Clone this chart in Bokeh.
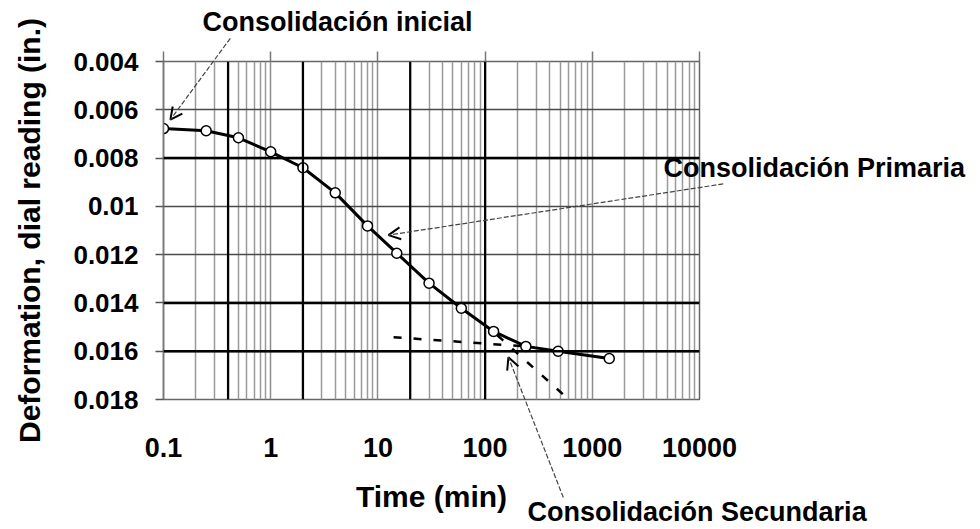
from bokeh.plotting import figure
from bokeh.models import (Range1d, FixedTicker, LogAxis, CustomJSTickFormatter,
                          Arrow, OpenHead, Span, ColumnDataSource)
from bokeh.core.properties import value
from bokeh.embed import file_html
from bokeh.resources import INLINE

# ---------------- data ----------------
time_min = [0.1, 0.25, 0.5, 1, 2, 4, 8, 15, 30, 60, 120, 240, 480, 1440]
dial_in = [0.00678, 0.00687, 0.00716, 0.00774, 0.00840, 0.00944, 0.01081,
           0.01194, 0.01318, 0.01422, 0.01518, 0.01580, 0.01600, 0.01630]

# dashed construction lines (tangents)
sec_t = [14, 240]
sec_d = [0.01542, 0.01580]
pri_t = [130, 590]
pri_d = [0.01534, 0.01796]

x_ticks = [0.1, 1, 10, 100, 1000, 10000]
x_tick_labels = ["0.1", "1", "10", "100", "1000", "10000"]
y_ticks = [0.004, 0.006, 0.008, 0.010, 0.012, 0.014, 0.016, 0.018]
y_tick_labels = ["0.004", "0.006", "0.008", "0.01", "0.012", "0.014", "0.016", "0.018"]

# darker grid lines seen in the reference
dark_x = [0.4, 2, 20, 100]
dark_y = [0.008, 0.014, 0.016]

# annotation texts and their anchors (left / middle)
ann_text = ["Consolidación inicial", "Consolidación Primaria", "Consolidación Secundaria"]
ann_x = [0.231, 4613, 249]
ann_y = [0.00238, 0.00843, 0.02264]

# annotation arrows (start -> arrow head)
arr_x0 = [0.42, 16650, 537]
arr_y0 = [0.00304, 0.00907, 0.02206]
arr_x1 = [0.116, 12.56, 165]
arr_y1 = [0.00641, 0.01119, 0.01625]

FONT = "Liberation Sans"

x_minor = [m * d for d in x_ticks[:-1] for m in range(2, 10)]

p = figure(width=980, height=529, x_axis_type="log",
           x_range=Range1d(0.1, 10000), y_range=Range1d(0.018, 0.004),
           output_backend="svg", toolbar_location=None,
           min_border_left=163, min_border_right=281,
           min_border_top=61, min_border_bottom=130)
p.background_fill_color = "white"
p.border_fill_color = "white"
p.outline_line_color = "#666666"
p.outline_line_width = 1.5

# grids
p.xgrid.ticker = FixedTicker(ticks=x_ticks, minor_ticks=x_minor)
p.xgrid.grid_line_color = "#8c8c8c"
p.xgrid.grid_line_width = 1.5
p.xgrid.minor_grid_line_color = "#9a9a9a"
p.xgrid.minor_grid_line_width = 1.5
p.ygrid.ticker = FixedTicker(ticks=y_ticks, minor_ticks=[])
p.ygrid.grid_line_color = "#4a4a4a"
p.ygrid.grid_line_width = 1.5

for xv in dark_x:
    p.add_layout(Span(location=xv, dimension="height", line_color="black", line_width=2.2))
for yv in dark_y:
    p.add_layout(Span(location=yv, dimension="width", line_color="black", line_width=2.5))

# bottom axis
xa = p.xaxis[0]
xa.ticker = FixedTicker(ticks=x_ticks, minor_ticks=[])
xa.major_label_overrides = dict(zip(x_ticks, x_tick_labels))
xa.major_tick_out = 0
xa.major_tick_in = 0
xa.minor_tick_out = 0
xa.minor_tick_in = 0
xa.axis_line_color = None
xa.major_label_standoff = 38
xa.major_label_text_font = FONT
xa.major_label_text_font_style = "bold"
xa.major_label_text_font_size = "27px"
xa.major_label_text_color = "black"
xa.axis_label = "Time (min)"
xa.axis_label_text_font = FONT
xa.axis_label_text_font_style = "bold"
xa.axis_label_text_font_size = "30px"
xa.axis_label_text_color = "black"
xa.axis_label_standoff = 20

# top axis: decade tick marks only
top = LogAxis(ticker=FixedTicker(ticks=x_ticks, minor_ticks=[]),
              formatter=CustomJSTickFormatter(code="return ''"))
top.major_tick_out = 10
top.major_tick_in = 0
top.minor_tick_out = 0
top.minor_tick_in = 0
top.axis_line_color = None
top.major_tick_line_color = "#777777"
top.major_tick_line_width = 1.5
top.major_label_standoff = 0
p.add_layout(top, "above")

# left axis
ya = p.yaxis[0]
ya.ticker = FixedTicker(ticks=y_ticks, minor_ticks=[])
ya.major_label_overrides = dict(zip(y_ticks, y_tick_labels))
ya.major_tick_out = 8
ya.major_tick_in = 0
ya.minor_tick_out = 0
ya.minor_tick_in = 0
ya.axis_line_color = "#777777"
ya.axis_line_width = 1.5
ya.major_tick_line_color = "#555555"
ya.major_tick_line_width = 1.5
ya.major_label_standoff = 17
ya.major_label_text_font = FONT
ya.major_label_text_font_style = "bold"
ya.major_label_text_font_size = "26px"
ya.major_label_text_color = "black"
ya.axis_label = "Deformation, dial reading (in.)"
ya.axis_label_text_font = FONT
ya.axis_label_text_font_style = "bold"
ya.axis_label_text_font_size = "30px"
ya.axis_label_text_color = "black"
ya.axis_label_standoff = 24

# dashed tangent constructions
p.line(sec_t, sec_d, line_color="black", line_width=2.5, line_dash="8 12")
p.line(pri_t, pri_d, line_color="black", line_width=2.5, line_dash="8 12")

# data curve
src = ColumnDataSource(dict(t=time_min, d=dial_in))
p.line("t", "d", source=src, line_color="black", line_width=3)
p.scatter("t", "d", source=src, marker="circle", size=10,
          fill_color="white", line_color="black", line_width=1.5)

# annotation arrows: bodies as overlay glyphs, heads as Arrow annotations
asrc = ColumnDataSource(dict(x0=arr_x0, y0=arr_y0, x1=arr_x1, y1=arr_y1))
p.segment("x0", "y0", "x1", "y1", source=asrc, line_color="#444444",
          line_width=1.2, line_dash="5 2", level="overlay")
for xs, ys, xe, ye in zip(arr_x0, arr_y0, arr_x1, arr_y1):
    p.add_layout(Arrow(x_start=xs, y_start=ys, x_end=xe, y_end=ye,
                       line_color=None,
                       end=OpenHead(size=12, line_color="black", line_width=2)))

# annotation texts
tsrc = ColumnDataSource(dict(x=ann_x, y=ann_y, text=ann_text))
p.text("x", "y", text="text", source=tsrc, text_font=value(FONT),
       text_font_style="bold", text_font_size="27px", text_color="black",
       text_align="left", text_baseline="middle", level="overlay")

open("out.html", "w").write(file_html(p, INLINE))
